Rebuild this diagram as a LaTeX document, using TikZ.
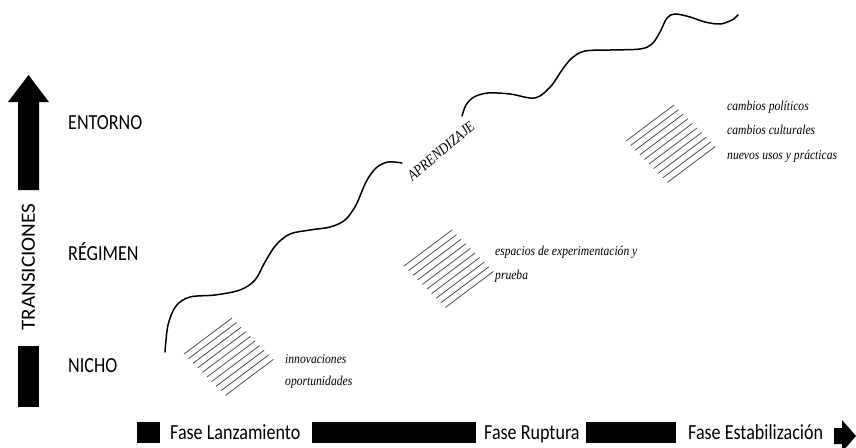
\documentclass[tikz,border=0pt]{standalone}
\usepackage{fontspec}
\newfontfamily\labelfont[FakeStretch=0.84]{Carlito}
\newfontfamily\notefont[FakeStretch=0.86]{Liberation Serif}

\tikzset{
  lvl/.style={anchor=base west, inner sep=0pt, font=\labelfont\fontsize{21.5}{24}\selectfont},
  note/.style={anchor=base west, inner sep=0pt, font=\notefont\itshape\fontsize{13.5}{15}\selectfont},
  phasebar/.style={fill=black, inner sep=0pt, minimum height=21pt, minimum width=#1},
  hatch/.style={draw=black!70, line width=0.8pt},
  wave/.style={line width=1.5pt, line cap=round}
}

\begin{document}
\begin{tikzpicture}[x=1pt,y=-1pt]
            \useasboundingbox (0,0) rectangle (856,447);

            % vertical axis
            \fill (18,190) -- (18,102) -- (8,102) -- (28.5,75) -- (49,102) -- (39,102) -- (39,190) -- cycle;
            \fill (18,346) rectangle (39,407);
            \node[rotate=90, inner sep=0pt, font=\labelfont\fontsize{24}{26}\selectfont] (trans) at (28.5,267) {\scalebox{1.05}[0.84]{TRANSICIONES}};

            \node[lvl] (entorno) at (68,129) {ENTORNO};
            \node[lvl] (regimen) at (68,260) {RÉGIMEN};
            \node[lvl] (nicho) at (68,372) {NICHO};

            % learning curve
            \draw[wave] plot[smooth, tension=0.55] coordinates {(165,352) (168,325) (176,306) (190,297) (215,295) (240,290) (255,280) (265,262) (276,245) (290,234) (310,230) (330,227) (345,220) (356,205) (366,182) (376,168) (388,162) (402,163)};
            \draw[wave] plot[smooth, tension=0.55] coordinates {(462,116) (466,105) (474,97) (488,93) (510,94) (530,98) (540,96) (552,85) (562,70) (572,58) (585,51) (610,50) (640,49) (652,44) (660,32) (667,18) (675,14) (690,17) (705,22) (720,24) (732,20) (738,15)};
            \node[inner sep=0pt, rotate=40, font=\notefont\itshape\fontsize{15}{16}\selectfont] (aprendizaje) at (441,151) {APRENDIZAJE};

            % hatched patches
            \foreach \hx/\hy in {184/354, 404/266, 626/141}
              \foreach \i in {0,...,9}
                \draw[hatch] (\hx+4.6*\i, \hy+4.6*\i) -- ++(48,-36);

            \node[note] (innov) at (285,363) {innovaciones};
            \node[note] (oport) at (285,385) {oportunidades};
            \node[note] (espacios) at (495,255) {espacios de experimentación y};
            \node[note] (prueba) at (495,279) {prueba};
            \node[note] (politicos) at (727,110) {cambios políticos};
            \node[note] (culturales) at (727,134) {cambios culturales};
            \node[note] (usos) at (727,159) {nuevos usos y prácticas};

            % phases
            \node[phasebar=23pt] (sq) at (148.5,432.5) {};
            \node[lvl] (lanz) at (170,439) {Fase Lanzamiento};
            \node[phasebar=164pt] (bar1) at (394,432.5) {};
            \node[lvl] (rupt) at (484,439) {Fase Ruptura};
            \node[phasebar=90pt] (bar2) at (631,432.5) {};
            \node[lvl] (estab) at (688,439) {Fase Estabilización};
            \fill (834,428) -- (842,428) -- (842,420) -- (856,436) -- (842,452) -- (842,444) -- (834,444) -- cycle;
        \end{tikzpicture}
\end{document}
